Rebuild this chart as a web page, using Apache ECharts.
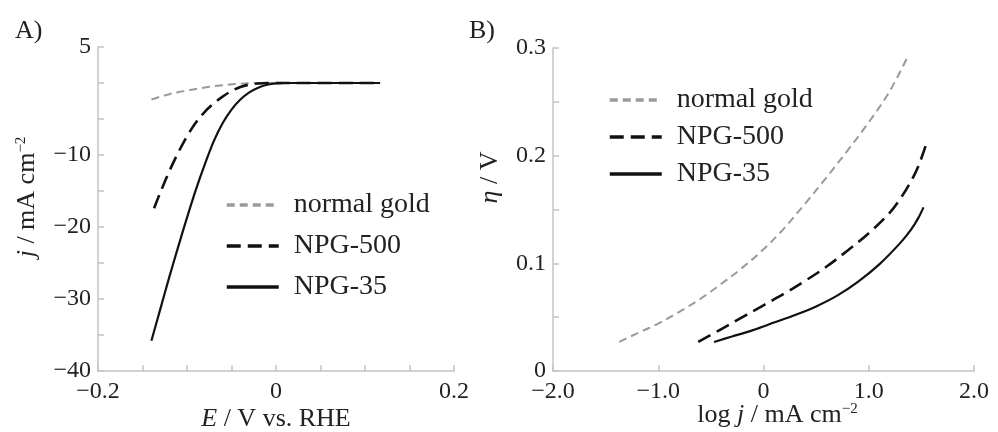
<html>
<head>
    <meta charset="utf-8">
    <title>HER polarization and Tafel plots</title>
    <script src="https://cdn.jsdelivr.net/npm/echarts@6/dist/echarts.min.js"></script>
    <style>
        html, body { margin: 0; padding: 0; background: #fff; }
        #main { width: 998px; height: 432px; }
    </style>
</head>
<body>
<div id="main"></div>
<script>
    // ---- panel A: polarization curves, E (V vs RHE) vs j (mA cm-2)
    var goldE = [-0.140, -0.130, -0.120, -0.110, -0.100, -0.090, -0.080, -0.070, -0.060, -0.050, -0.040, -0.030, -0.015, 0.050, 0.117]
    var goldJ = [-2.3, -1.9, -1.55, -1.28, -1.05, -0.82, -0.62, -0.44, -0.30, -0.18, -0.09, -0.03, 0, 0, 0]

    var npg500E = [-0.137, -0.130, -0.120, -0.110, -0.100, -0.090, -0.080, -0.070, -0.060, -0.050, -0.040, -0.030, -0.020, -0.010, 0.050, 0.117]
    var npg500J = [-17.4, -15.2, -12.3, -9.7, -7.4, -5.5, -4.0, -2.85, -1.9, -1.1, -0.55, -0.22, -0.07, 0, 0, 0]

    var npg35E = [-0.140, -0.130, -0.120, -0.110, -0.100, -0.090, -0.080, -0.070, -0.060, -0.050, -0.040, -0.030, -0.020, -0.010, 0.000, 0.010, 0.050, 0.117]
    var npg35J = [-35.8, -31.4, -27.0, -22.8, -18.7, -14.8, -11.3, -8.1, -5.6, -3.7, -2.3, -1.3, -0.65, -0.25, -0.06, 0, 0, 0]

    // ---- panel B: Tafel plots, log j vs overpotential (V)
    var goldLogJ = [-1.37, -1.2, -1.0, -0.8, -0.6, -0.4, -0.2, 0.0, 0.2, 0.4, 0.6, 0.8, 1.0, 1.2, 1.37]
    var goldEta = [0.027, 0.035, 0.044, 0.055, 0.067, 0.081, 0.096, 0.113, 0.133, 0.156, 0.180, 0.205, 0.231, 0.260, 0.292]

    var npg500LogJ = [-0.62, -0.4, -0.2, 0.0, 0.2, 0.4, 0.6, 0.8, 1.0, 1.2, 1.3, 1.4, 1.47, 1.54]
    var npg500Eta = [0.027, 0.039, 0.050, 0.061, 0.072, 0.084, 0.097, 0.112, 0.128, 0.147, 0.160, 0.176, 0.190, 0.209]

    var npg35LogJ = [-0.47, -0.3, -0.1, 0.1, 0.3, 0.5, 0.7, 0.9, 1.1, 1.3, 1.4, 1.47, 1.52]
    var npg35Eta = [0.027, 0.032, 0.038, 0.045, 0.052, 0.060, 0.070, 0.083, 0.099, 0.119, 0.131, 0.142, 0.152]

    var seriesNames = ['normal gold', 'NPG-500', 'NPG-35']
    var aXLabels = [-0.2, 0, 0.2]
    var aYLabels = [5, -10, -20, -30, -40]

    var serif = "'Liberation Serif', 'Times New Roman', serif"
    var axisGray = '#c4c4c4'
    var ink = '#222'

    function zip (xs, ys) {
        return xs.map(function (x, i) { return [x, ys[i]] })
    }

    function minus (s) {
        return String(s).replace('-', '\u2212')
    }

    function hasValue (list, v) {
        return list.some(function (t) { return Math.abs(t - v) < 1e-9 })
    }

    var baseAxis = {
        axisLine: { show: true, onZero: false, lineStyle: { color: axisGray, width: 1.5 } },
        axisTick: { show: true, inside: true, length: 6, lineStyle: { color: axisGray, width: 1.5 } },
        splitLine: { show: false },
        axisLabel: { color: ink, fontFamily: serif, fontSize: 24 },
        nameLocation: 'middle',
        nameMoveOverlap: false,
        nameTextStyle: { color: ink, fontFamily: serif, fontSize: 26 }
    }

    function axis (extra) {
        var a = JSON.parse(JSON.stringify(baseAxis))
        for (var k in extra) {
            if (typeof extra[k] === 'object' && a[k] && !Array.isArray(extra[k])) {
                for (var kk in extra[k]) a[k][kk] = extra[k][kk]
            } else {
                a[k] = extra[k]
            }
        }
        return a
    }

    var richName = {
        i: { fontFamily: serif, fontSize: 26, fontStyle: 'italic', color: ink },
        n: { fontFamily: serif, fontSize: 26, color: ink },
        sup: { fontFamily: serif, fontSize: 15, color: ink, verticalAlign: 'top', padding: [0, 0, 8, 0] }
    }

    var lineGold = { color: '#9a9a9a', width: 2, type: [8, 5] }
    var line500 = { color: '#111', width: 2.6, type: [14, 7] }
    var line35 = { color: '#111', width: 2.2, type: 'solid' }

    function mkSeries (name, data, ls, idx) {
        return {
            name: name,
            type: 'line',
            xAxisIndex: idx,
            yAxisIndex: idx,
            data: data,
            symbol: 'none',
            smooth: 0.35,
            color: ls.color,
            lineStyle: ls
        }
    }

    var legendBase = {
        orient: 'vertical',
        padding: 0,
        itemWidth: 52,
        itemHeight: 14,
        lineStyle: { width: 3.5 },
        itemStyle: { opacity: 0, color: 'transparent', borderWidth: 0 },
        textStyle: { fontFamily: serif, fontSize: 28, color: ink, lineHeight: 28, padding: [0, 0, 0, 10] },
        data: seriesNames,
        selectedMode: false
    }

    var myChart = echarts.init(document.getElementById('main'), null, { renderer: 'canvas' })

    myChart.setOption({
        animation: false,
        backgroundColor: '#fff',
        grid: [
            { left: 98, top: 47, width: 356, height: 324, containLabel: false, outerBoundsMode: 'none' },
            { left: 553, top: 48, width: 421, height: 323, containLabel: false, outerBoundsMode: 'none' }
        ],
        legend: [
            Object.assign({}, legendBase, { left: 225, top: 191, itemGap: 13 }),
            Object.assign({}, legendBase, { left: 608, top: 86, itemGap: 9 })
        ],
        xAxis: [
            axis({
                type: 'value', gridIndex: 0, min: -0.2, max: 0.2, interval: 0.05,
                axisLabel: {
                    margin: 9,
                    formatter: function (v) {
                        if (!hasValue(aXLabels, v)) return ''
                        return Math.abs(v) < 1e-9 ? '0' : minus(v.toFixed(1))
                    }
                },
                name: '{i|E}{n| / V vs. RHE}',
                nameGap: 35,
                nameTextStyle: { rich: richName }
            }),
            axis({
                type: 'value', gridIndex: 1, min: -2, max: 2, interval: 1,
                axisLabel: {
                    margin: 9,
                    formatter: function (v) {
                        return v === 0 ? '0' : minus(v.toFixed(1))
                    }
                },
                name: '{n|log }{i|j}{n| / mA cm}{sup|\u22122}',
                nameGap: 31,
                nameTextStyle: { rich: richName, padding: [0, 0, 0, 28] }
            })
        ],
        yAxis: [
            axis({
                type: 'value', gridIndex: 0, min: -40, max: 5, interval: 5,
                axisLabel: {
                    margin: 7,
                    formatter: function (v) {
                        return hasValue(aYLabels, v) ? minus(v) : ''
                    }
                },
                name: '{i|j}{n| / mA cm}{sup|\u22122}',
                nameGap: 58,
                nameTextStyle: { rich: richName, padding: [0, 0, 0, 24] }
            }),
            axis({
                type: 'value', gridIndex: 1, min: 0, max: 0.3, interval: 0.05,
                axisLabel: {
                    margin: 7,
                    formatter: function (v) {
                        var h = Math.round(v * 100)
                        if (h % 10 !== 0) return ''
                        return h === 0 ? '0' : (h / 100).toFixed(1)
                    }
                },
                name: '{i|\u03b7}{n| / V}',
                nameGap: 50,
                nameTextStyle: { rich: richName, padding: [0, 0, 0, 64] }
            })
        ],
        graphic: [
            { type: 'text', left: 15, top: 18, style: { text: 'A)', fontFamily: serif, fontSize: 26, fill: ink } },
            { type: 'text', left: 469, top: 18, style: { text: 'B)', fontFamily: serif, fontSize: 26, fill: ink } }
        ],
        series: [
            mkSeries(seriesNames[0], zip(goldE, goldJ), lineGold, 0),
            mkSeries(seriesNames[1], zip(npg500E, npg500J), line500, 0),
            mkSeries(seriesNames[2], zip(npg35E, npg35J), line35, 0),
            mkSeries(seriesNames[0], zip(goldLogJ, goldEta), lineGold, 1),
            mkSeries(seriesNames[1], zip(npg500LogJ, npg500Eta), line500, 1),
            mkSeries(seriesNames[2], zip(npg35LogJ, npg35Eta), line35, 1)
        ]
    })
</script>
</body>
</html>
